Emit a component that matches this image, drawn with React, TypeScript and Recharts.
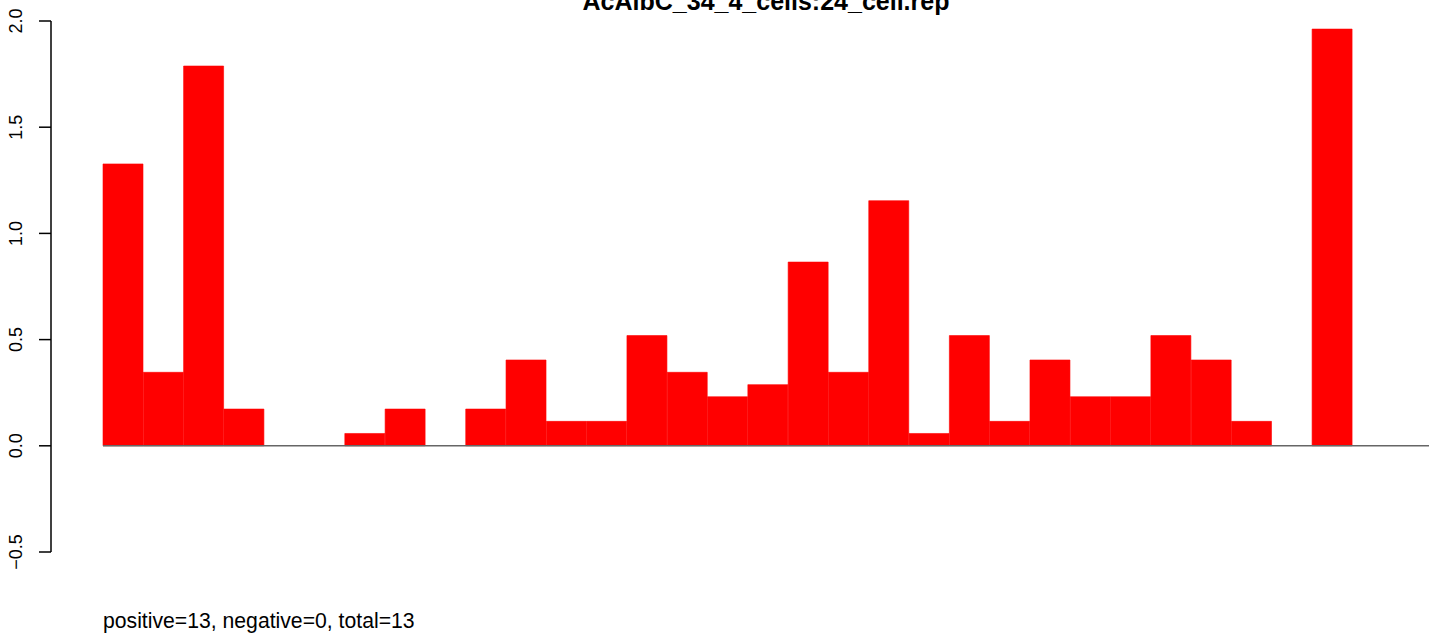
import { BarChart, Bar, XAxis, YAxis, ReferenceLine } from 'recharts'

const TITLE = 'AcAlbC_34_4_cells:24_cell.rep'
const FOOTNOTE = 'positive=13, negative=0, total=13'

const bins = [
  'b1', 'b2', 'b3', 'b4', 'b5', 'b6', 'b7', 'b8', 'b9', 'b10', 'b11',
  'b12', 'b13', 'b14', 'b15', 'b16', 'b17', 'b18', 'b19', 'b20', 'b21', 'b22',
  'b23', 'b24', 'b25', 'b26', 'b27', 'b28', 'b29', 'b30', 'b31', 'b32', 'b33',
]
const values = [
  1.327, 0.346, 1.788, 0.173, 0, 0, 0.058, 0.173, 0, 0.173, 0.404,
  0.115, 0.115, 0.519, 0.346, 0.231, 0.288, 0.865, 0.346, 1.154, 0.058, 0.519,
  0.115, 0.404, 0.231, 0.231, 0.519, 0.404, 0.115, 0, 1.962, 0, 0,
]
const yTicks = [-0.5, 0, 0.5, 1, 1.5, 2]

const data = bins.map((name, i) => ({ name, value: values[i] }))

// gap between the y axis and the first bar
const XPAD = 52

const fmt = (v: number) => (v < 0 ? '\u2212' + Math.abs(v).toFixed(1) : v.toFixed(1))

const font = '"Liberation Sans", Arial, sans-serif'

function RotTick(props: any) {
  const { y, payload } = props
  return (
    <text x={16} y={y} transform={`rotate(-90, 16, ${y})`} textAnchor="middle"
      dominantBaseline="central" fontSize={18} fontFamily={font} fill="#000">
      {fmt(payload.value)}
    </text>
  )
}

// zero line starts at the first bar, not at the axis
const baseLine = (p: any) => (
  <line x1={p.x1 + XPAD} y1={p.y1} x2={p.x2} y2={p.y2} stroke="#666" strokeWidth={1.5} />
)

export default function App() {
  return (
    <div style={{ position: 'absolute', left: 0, top: 0, width: 1429, height: 634, overflow: 'hidden', background: '#fff' }}>
      <BarChart width={1433} height={634} data={data} barCategoryGap={0}
        margin={{ top: 21, right: 0, left: 0, bottom: 82 }}>
        <XAxis dataKey="name" hide padding={{ left: XPAD, right: 0 }} />
        <YAxis domain={[-0.5, 2]} ticks={yTicks} width={51} interval={0}
          axisLine={{ stroke: '#000', strokeWidth: 1.5 }} tickLine={{ stroke: '#000', strokeWidth: 1.5 }}
          tickSize={12} tick={<RotTick />} />
        <ReferenceLine y={0} shape={baseLine} />
        <Bar dataKey="value" fill="#ff0000" stroke="#ff0000" strokeWidth={0.6} isAnimationActive={false} />
      </BarChart>
      <div style={{ position: 'absolute', left: 0, width: 1532, top: -11, textAlign: 'center', fontFamily: font, fontWeight: 'bold', fontSize: 25, lineHeight: '25px', whiteSpace: 'nowrap' }}>
        {TITLE}
      </div>
      <div style={{ position: 'absolute', left: 103, top: 610, fontFamily: font, fontSize: 21.2, lineHeight: '21px', whiteSpace: 'nowrap' }}>
        {FOOTNOTE}
      </div>
    </div>
  )
}
